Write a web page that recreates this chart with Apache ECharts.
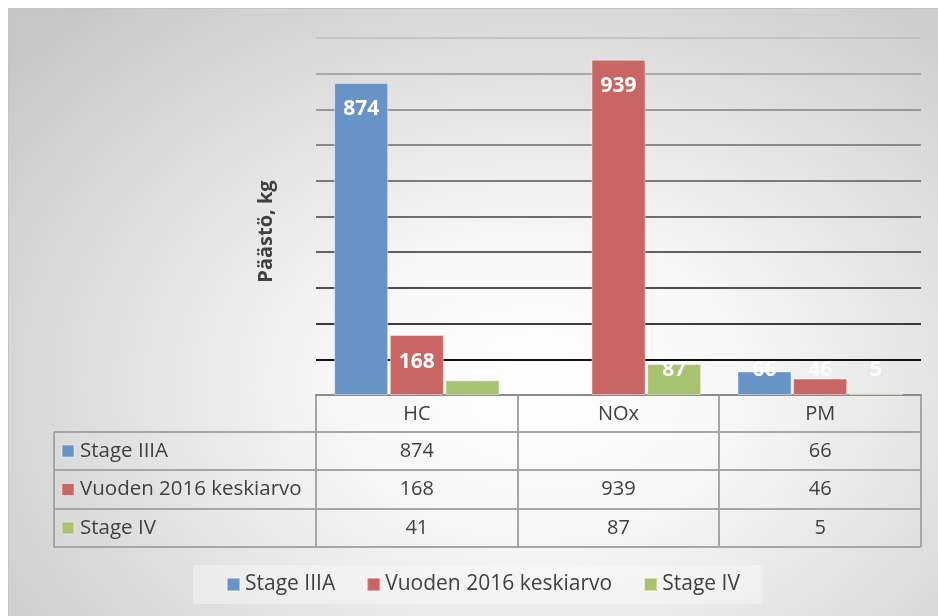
<!DOCTYPE html>
<html>
<head>
<meta charset="utf-8">
<script src="https://cdn.jsdelivr.net/npm/echarts@6/dist/echarts.min.js"></script>
<style>
    html, body { margin: 0; padding: 0; background: #fff; }
    #bg {
        position: absolute; left: 8px; top: 8px; width: 930px; height: 608px;
        border-left: 1px solid #c4c4c4; border-top: 1px solid #c4c4c4;
        box-sizing: border-box;
        background: radial-gradient(ellipse 75% 85% at 57% 62%, #ffffff 0%, #f6f6f6 30%, #dedede 65%, #c6c6c6 100%);
    }
    #main { position: absolute; left: 0; top: 0; width: 938px; height: 616px; }
</style>
</head>
<body>
<div id="bg"></div>
<div id="main"></div>
<script>
var categories = ['HC', 'NOx', 'PM'];
var seriesNames = ['Stage IIIA', 'Vuoden 2016 keskiarvo', 'Stage IV'];
var stageIIIA = [874, null, 66];
var avg2016 = [168, 939, 46];
var stageIV = [41, 87, 5];
var yTicks = [0, 100, 200, 300, 400, 500, 600, 700, 800, 900, 1000];
// the HC / Stage IV bar has no visible label in the original
var hiddenLabels = [[2, 0]];

initChart();

function isHidden(s, c) {
    for (var i = 0; i < hiddenLabels.length; i++) {
        if (hiddenLabels[i][0] == s && hiddenLabels[i][1] == c) return true;
    }
    return false;
}

function initChart() {
    var myChart = echarts.init(document.getElementById('main'), null, { renderer: 'canvas' });
    var colors = ['#6793c7', '#c96663', '#a8c36f'];
    var values = [stageIIIA, avg2016, stageIV];
    var font = '"Open Sans", sans-serif';
    var textColor = '#404040';

    // layout of the plot / table
    var gl = 316, gr = 921, gt = 38, gb = 395;
    var rows = [395, 432, 470, 509, 547];
    var tableLeft = 54;
    var colW = (gr - gl) / categories.length;

    // gridline colours get darker toward the bottom
    var splitColors = ['#888', '#111', '#3c3c3c', '#505050', '#626262', '#6e6e6e', '#7b7b7b', '#898989', '#989898', '#a8a8a8', '#c4c4c4'];

    var series = [];
    for (var i = 0; i < seriesNames.length; i++) {
        var data = [];
        for (var j = 0; j < values[i].length; j++) {
            var v = values[i][j];
            if (v === null) { data.push(null); continue; }
            var small = v < 100;
            var lbl = small ? { position: 'insideBottom', distance: 14 } : { position: 'insideTop', distance: 16 };
            if (isHidden(i, j)) lbl = { show: false };
            data.push({ value: v, label: lbl });
        }
        series.push({
            name: seriesNames[i],
            type: 'bar',
            data: data,
            barGap: '3%',
            barCategoryGap: '18%',
            itemStyle: { color: colors[i], borderColor: 'rgba(255,255,255,0.45)', borderWidth: 1 },
            label: {
                show: true,
                color: '#fff',
                fontWeight: 'bold',
                fontSize: 21,
                fontFamily: font
            }
        });
    }

    // table rows as extra category axes under the plot
    var xAxes = [{
        type: 'category',
        data: categories,
        axisLine: { lineStyle: { color: '#8c8c8c', width: 2 } },
        axisTick: { show: false },
        axisLabel: { color: textColor, fontSize: 20, fontFamily: font, margin: 19, verticalAlign: 'middle' }
    }];
    for (var r = 0; r < values.length; r++) {
        xAxes.push({
            type: 'category',
            position: 'bottom',
            data: values[r].map(function(v) { return v === null ? '' : String(v); }),
            axisLine: { show: false },
            axisTick: { show: false },
            axisLabel: {
                color: textColor, fontSize: 20, fontFamily: font, verticalAlign: 'middle',
                margin: (rows[r + 1] + rows[r + 2]) / 2 - gb
            }
        });
    }

    // table borders + row headers
    var graphics = [];
    var lineStyle = { stroke: '#a6a6a6', lineWidth: 2 };
    for (var k = 1; k < rows.length; k++) {
        graphics.push({ type: 'line', shape: { x1: tableLeft, y1: rows[k], x2: gr, y2: rows[k] }, style: lineStyle });
    }
    graphics.push({ type: 'line', shape: { x1: tableLeft, y1: rows[1], x2: tableLeft, y2: rows[4] }, style: lineStyle });
    for (var c = 0; c <= categories.length; c++) {
        var x = Math.round(gl + c * colW);
        graphics.push({ type: 'line', shape: { x1: x, y1: rows[0], x2: x, y2: rows[4] }, style: lineStyle });
    }
    for (var s = 0; s < seriesNames.length; s++) {
        var cy = (rows[s + 1] + rows[s + 2]) / 2;
        graphics.push({ type: 'rect', shape: { x: 62, y: cy - 6, width: 12, height: 12 }, style: { fill: colors[s], stroke: 'rgba(255,255,255,0.5)', lineWidth: 1 } });
        graphics.push({
            type: 'text', x: 80, y: cy,
            style: { text: seriesNames[s], fill: textColor, font: '20.5px ' + font, verticalAlign: 'middle', align: 'left' }
        });
    }

    var option = {
        backgroundColor: 'transparent',
        color: colors,
        grid: { left: gl, right: 938 - gr, top: gt, bottom: 616 - gb },
        legend: {
            data: seriesNames,
            bottom: 12,
            left: 193,
            icon: 'rect',
            itemWidth: 13,
            itemHeight: 13,
            itemGap: 31,
            padding: [9, 23, 9, 33],
            backgroundColor: 'rgba(255,255,255,0.35)',
            textStyle: { color: textColor, fontSize: 21, fontFamily: font }
        },
        xAxis: xAxes,
        yAxis: {
            type: 'value',
            min: 0,
            max: 1000,
            interval: 100,
            name: 'Päästö, kg',
            nameLocation: 'middle',
            nameGap: 40,
            nameTextStyle: { color: textColor, fontSize: 20, fontWeight: 'bold', fontFamily: font, padding: [0, 30, 0, 0] },
            axisLabel: { show: false },
            axisLine: { show: false },
            axisTick: { show: false },
            splitLine: { lineStyle: { color: splitColors, width: 2 } }
        },
        graphic: graphics,
        series: series
    };
    myChart.setOption(option);
}
</script>
</body>
</html>
